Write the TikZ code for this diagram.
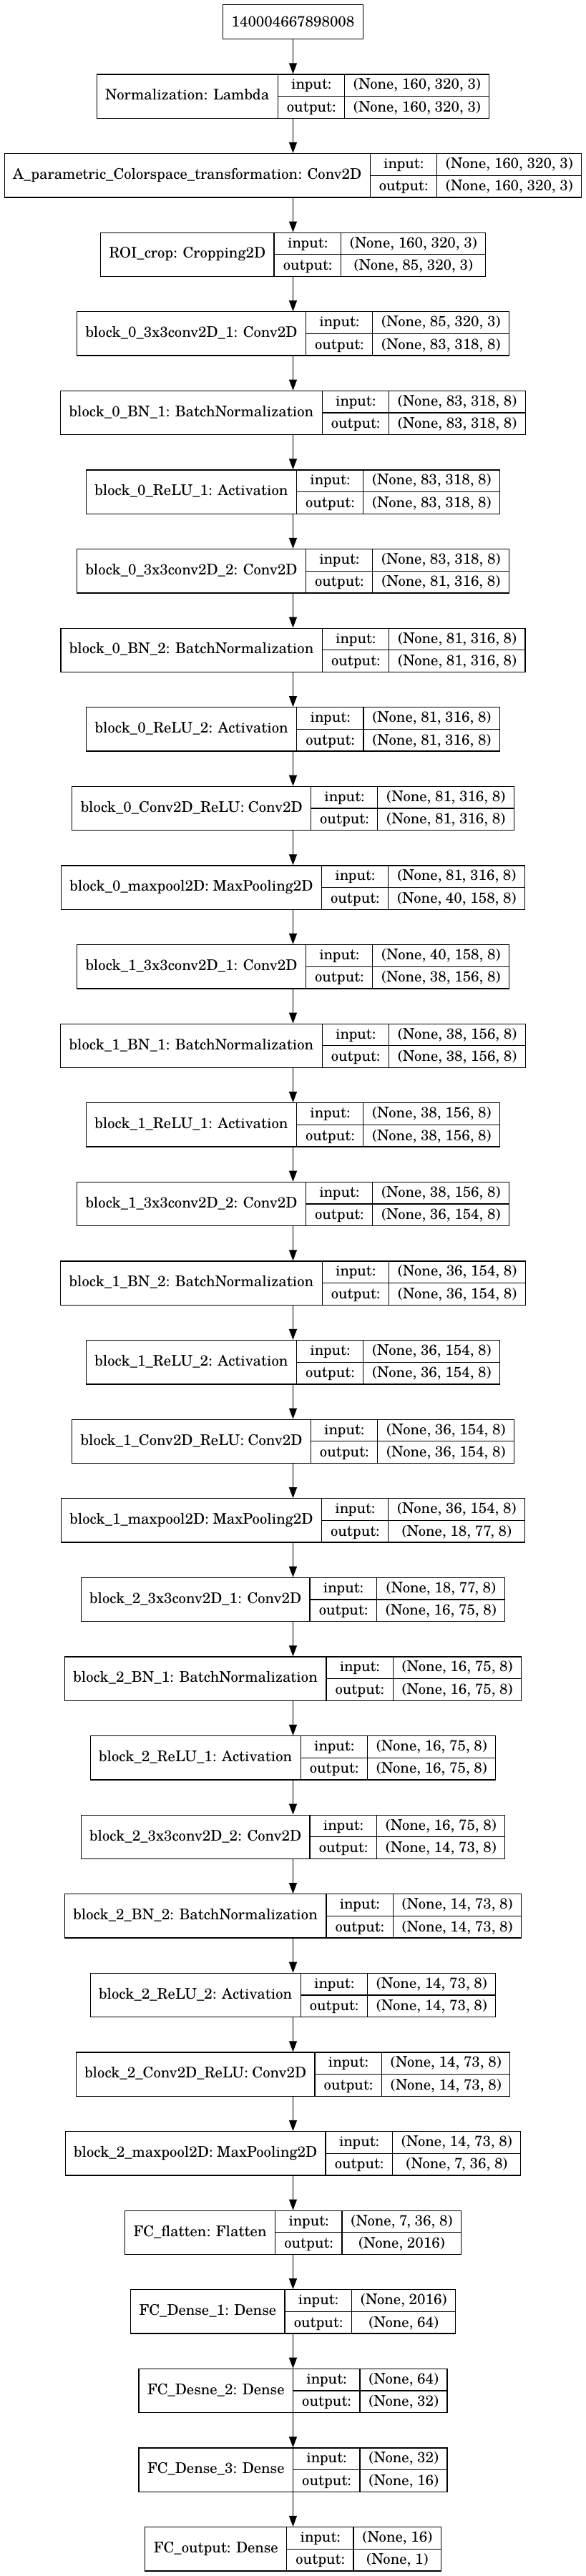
\documentclass[tikz,border=0pt]{standalone}
\usepackage{fontspec}
\setmainfont{TeX Gyre Schola}
\usepackage{tikz}
\usetikzlibrary{positioning,arrows.meta}

\setlength{\arrayrulewidth}{1.3pt}
\setlength{\tabcolsep}{12pt}
\newcommand{\layerbox}[3]{%
    \begin{tabular}{c|@{}c@{}|@{}c@{}}
        #1 &
        \begin{tabular}{c} input:\\\hline output:\end{tabular} &
        \begin{tabular}{c} #2\\\hline #3\end{tabular}
    \end{tabular}}

\begin{document}
\begin{tikzpicture}[
    node distance=48pt,
    font=\fontsize{20.6}{30}\selectfont,
    every node/.style={line width=1.3pt},
    layer/.style={draw, inner sep=0pt},
    arr/.style={-{Triangle[length=15pt,width=11pt]}, line width=1.3pt}
  ]
    \node[draw, inner xsep=12pt, minimum height=48.5pt] (inp) {140004667898008};
    \node[layer, below=of inp] (norm)
        {\layerbox{Normalization: Lambda}{(None, 160, 320, 3)}{(None, 160, 320, 3)}};
    \node[layer, below=of norm] (colortf)
        {\layerbox{A\_parametric\_Colorspace\_transformation: Conv2D}{(None, 160, 320, 3)}{(None, 160, 320, 3)}};
    \node[layer, below=of colortf] (roicrop)
        {\layerbox{ROI\_crop: Cropping2D}{(None, 160, 320, 3)}{(None, 85, 320, 3)}};
    \node[layer, below=of roicrop] (bzconva)
        {\layerbox{block\_0\_3x3conv2D\_1: Conv2D}{(None, 85, 320, 3)}{(None, 83, 318, 8)}};
    \node[layer, below=of bzconva] (bzbna)
        {\layerbox{block\_0\_BN\_1: BatchNormalization}{(None, 83, 318, 8)}{(None, 83, 318, 8)}};
    \node[layer, below=of bzbna] (bzrelua)
        {\layerbox{block\_0\_ReLU\_1: Activation}{(None, 83, 318, 8)}{(None, 83, 318, 8)}};
    \node[layer, below=of bzrelua] (bzconvb)
        {\layerbox{block\_0\_3x3conv2D\_2: Conv2D}{(None, 83, 318, 8)}{(None, 81, 316, 8)}};
    \node[layer, below=of bzconvb] (bzbnb)
        {\layerbox{block\_0\_BN\_2: BatchNormalization}{(None, 81, 316, 8)}{(None, 81, 316, 8)}};
    \node[layer, below=of bzbnb] (bzrelub)
        {\layerbox{block\_0\_ReLU\_2: Activation}{(None, 81, 316, 8)}{(None, 81, 316, 8)}};
    \node[layer, below=of bzrelub] (bzconvrelu)
        {\layerbox{block\_0\_Conv2D\_ReLU: Conv2D}{(None, 81, 316, 8)}{(None, 81, 316, 8)}};
    \node[layer, below=of bzconvrelu] (bzpool)
        {\layerbox{block\_0\_maxpool2D: MaxPooling2D}{(None, 81, 316, 8)}{(None, 40, 158, 8)}};
    \node[layer, below=of bzpool] (boconva)
        {\layerbox{block\_1\_3x3conv2D\_1: Conv2D}{(None, 40, 158, 8)}{(None, 38, 156, 8)}};
    \node[layer, below=of boconva] (bobna)
        {\layerbox{block\_1\_BN\_1: BatchNormalization}{(None, 38, 156, 8)}{(None, 38, 156, 8)}};
    \node[layer, below=of bobna] (borelua)
        {\layerbox{block\_1\_ReLU\_1: Activation}{(None, 38, 156, 8)}{(None, 38, 156, 8)}};
    \node[layer, below=of borelua] (boconvb)
        {\layerbox{block\_1\_3x3conv2D\_2: Conv2D}{(None, 38, 156, 8)}{(None, 36, 154, 8)}};
    \node[layer, below=of boconvb] (bobnb)
        {\layerbox{block\_1\_BN\_2: BatchNormalization}{(None, 36, 154, 8)}{(None, 36, 154, 8)}};
    \node[layer, below=of bobnb] (borelub)
        {\layerbox{block\_1\_ReLU\_2: Activation}{(None, 36, 154, 8)}{(None, 36, 154, 8)}};
    \node[layer, below=of borelub] (boconvrelu)
        {\layerbox{block\_1\_Conv2D\_ReLU: Conv2D}{(None, 36, 154, 8)}{(None, 36, 154, 8)}};
    \node[layer, below=of boconvrelu] (bopool)
        {\layerbox{block\_1\_maxpool2D: MaxPooling2D}{(None, 36, 154, 8)}{(None, 18, 77, 8)}};
    \node[layer, below=of bopool] (btconva)
        {\layerbox{block\_2\_3x3conv2D\_1: Conv2D}{(None, 18, 77, 8)}{(None, 16, 75, 8)}};
    \node[layer, below=of btconva] (btbna)
        {\layerbox{block\_2\_BN\_1: BatchNormalization}{(None, 16, 75, 8)}{(None, 16, 75, 8)}};
    \node[layer, below=of btbna] (btrelua)
        {\layerbox{block\_2\_ReLU\_1: Activation}{(None, 16, 75, 8)}{(None, 16, 75, 8)}};
    \node[layer, below=of btrelua] (btconvb)
        {\layerbox{block\_2\_3x3conv2D\_2: Conv2D}{(None, 16, 75, 8)}{(None, 14, 73, 8)}};
    \node[layer, below=of btconvb] (btbnb)
        {\layerbox{block\_2\_BN\_2: BatchNormalization}{(None, 14, 73, 8)}{(None, 14, 73, 8)}};
    \node[layer, below=of btbnb] (btrelub)
        {\layerbox{block\_2\_ReLU\_2: Activation}{(None, 14, 73, 8)}{(None, 14, 73, 8)}};
    \node[layer, below=of btrelub] (btconvrelu)
        {\layerbox{block\_2\_Conv2D\_ReLU: Conv2D}{(None, 14, 73, 8)}{(None, 14, 73, 8)}};
    \node[layer, below=of btconvrelu] (btpool)
        {\layerbox{block\_2\_maxpool2D: MaxPooling2D}{(None, 14, 73, 8)}{(None, 7, 36, 8)}};
    \node[layer, below=of btpool] (flat)
        {\layerbox{FC\_flatten: Flatten}{(None, 7, 36, 8)}{(None, 2016)}};
    \node[layer, below=of flat] (denseone)
        {\layerbox{FC\_Dense\_1: Dense}{(None, 2016)}{(None, 64)}};
    \node[layer, below=of denseone] (densetwo)
        {\layerbox{FC\_Desne\_2: Dense}{(None, 64)}{(None, 32)}};
    \node[layer, below=of densetwo] (densethree)
        {\layerbox{FC\_Dense\_3: Dense}{(None, 32)}{(None, 16)}};
    \node[layer, below=of densethree] (fcout)
        {\layerbox{FC\_output: Dense}{(None, 16)}{(None, 1)}};

    \draw[arr] (inp) -- (norm);
    \draw[arr] (norm) -- (colortf);
    \draw[arr] (colortf) -- (roicrop);
    \draw[arr] (roicrop) -- (bzconva);
    \draw[arr] (bzconva) -- (bzbna);
    \draw[arr] (bzbna) -- (bzrelua);
    \draw[arr] (bzrelua) -- (bzconvb);
    \draw[arr] (bzconvb) -- (bzbnb);
    \draw[arr] (bzbnb) -- (bzrelub);
    \draw[arr] (bzrelub) -- (bzconvrelu);
    \draw[arr] (bzconvrelu) -- (bzpool);
    \draw[arr] (bzpool) -- (boconva);
    \draw[arr] (boconva) -- (bobna);
    \draw[arr] (bobna) -- (borelua);
    \draw[arr] (borelua) -- (boconvb);
    \draw[arr] (boconvb) -- (bobnb);
    \draw[arr] (bobnb) -- (borelub);
    \draw[arr] (borelub) -- (boconvrelu);
    \draw[arr] (boconvrelu) -- (bopool);
    \draw[arr] (bopool) -- (btconva);
    \draw[arr] (btconva) -- (btbna);
    \draw[arr] (btbna) -- (btrelua);
    \draw[arr] (btrelua) -- (btconvb);
    \draw[arr] (btconvb) -- (btbnb);
    \draw[arr] (btbnb) -- (btrelub);
    \draw[arr] (btrelub) -- (btconvrelu);
    \draw[arr] (btconvrelu) -- (btpool);
    \draw[arr] (btpool) -- (flat);
    \draw[arr] (flat) -- (denseone);
    \draw[arr] (denseone) -- (densetwo);
    \draw[arr] (densetwo) -- (densethree);
    \draw[arr] (densethree) -- (fcout);

    \pgfresetboundingbox
    \useasboundingbox ([shift={(-409.5pt,5.5pt)}]inp.north) rectangle ++(819pt,-3601pt);
  \end{tikzpicture}
\end{document}
